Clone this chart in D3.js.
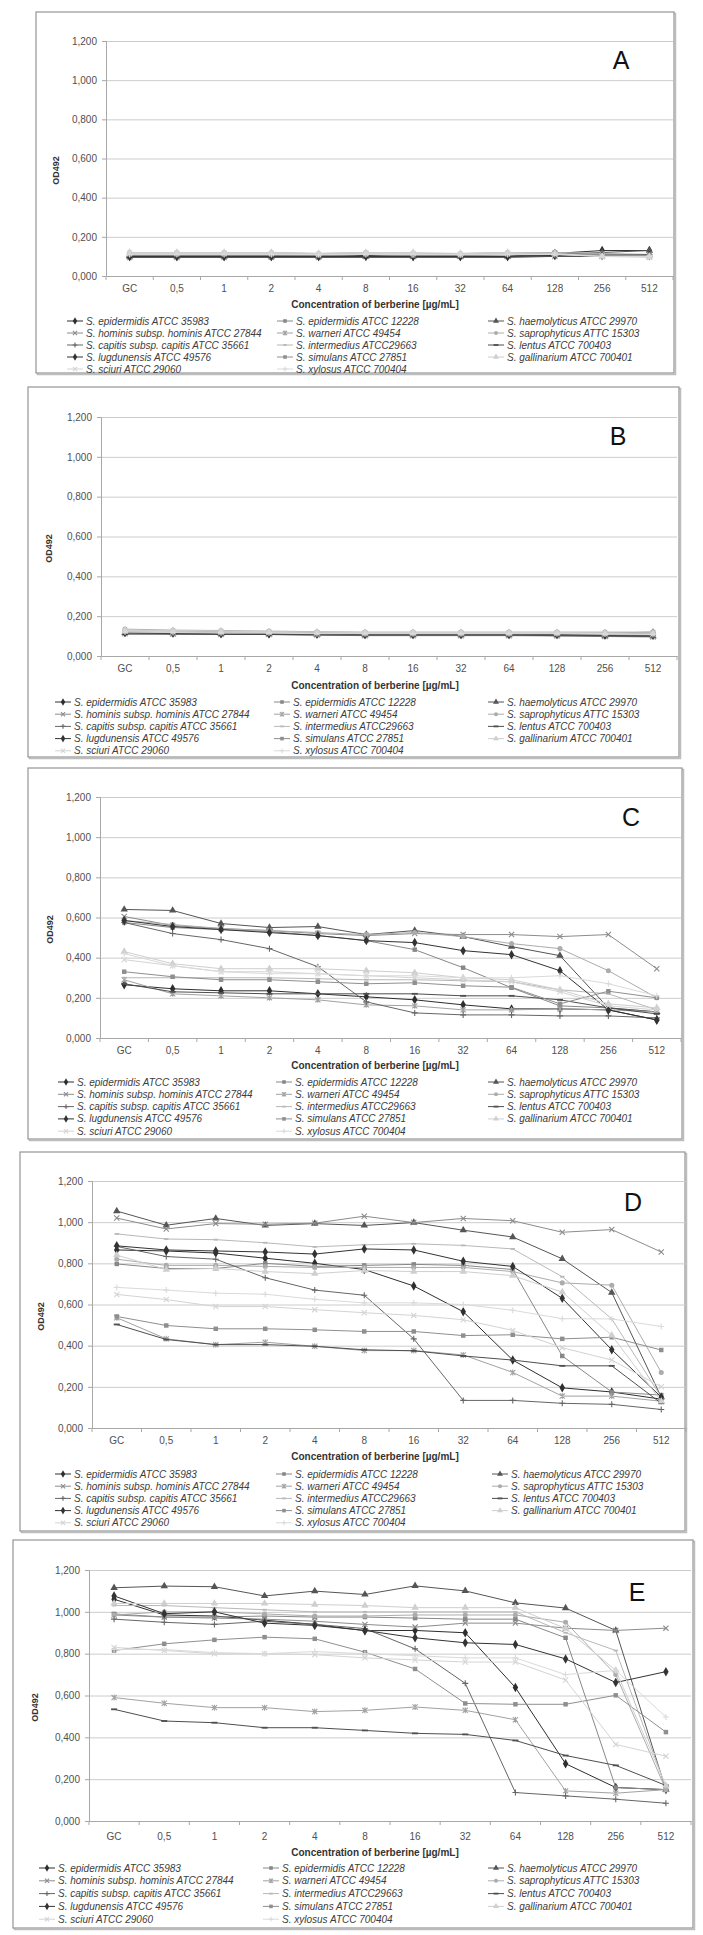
<!DOCTYPE html>
<html><head><meta charset="utf-8">
<script src="https://cdn.jsdelivr.net/npm/d3@7"></script>
<style>
body{margin:0;background:#fff;}
svg{display:block;}
text{font-family:"Liberation Sans Narrow","Arial Narrow","Liberation Sans",Arial,sans-serif;}
</style></head><body>
<svg id="chart" width="703" height="1935"></svg>
<script>
const categories = ["GC","0,5","1","2","4","8","16","32","64","128","256","512"];
const yTicks = [0, 0.2, 0.4, 0.6, 0.8, 1.0, 1.2];
const yTickLabels = ["0,000","0,200","0,400","0,600","0,800","1,000","1,200"];
const xTitle = "Concentration of berberine [µg/mL]";
const yTitle = "OD492";
const panelLetters = ["A","B","C","D","E"];
const seriesNames = [
  "S. epidermidis ATCC 35983","S. epidermidis ATCC 12228","S. haemolyticus ATCC 29970",
  "S. hominis subsp. hominis ATCC 27844","S. warneri  ATCC 49454","S. saprophyticus ATTC 15303",
  "S. capitis subsp. capitis ATCC 35661","S. intermedius ATCC29663","S. lentus ATCC 700403",
  "S. lugdunensis  ATCC 49576","S. simulans ATCC 27851","S. gallinarium ATCC 700401",
  "S. sciuri ATCC 29060","S. xylosus ATCC 700404"
];

const valuesA = [
  [0.100,0.100,0.100,0.100,0.100,0.105,0.100,0.100,0.100,0.115,0.130,0.130],
  [0.115,0.115,0.115,0.115,0.110,0.115,0.110,0.110,0.115,0.120,0.110,0.105],
  [0.100,0.100,0.100,0.100,0.100,0.100,0.100,0.100,0.100,0.110,0.120,0.130],
  [0.105,0.105,0.105,0.105,0.105,0.110,0.105,0.105,0.110,0.115,0.110,0.110],
  [0.095,0.095,0.095,0.095,0.095,0.100,0.100,0.100,0.100,0.100,0.100,0.100],
  [0.120,0.120,0.120,0.120,0.115,0.120,0.115,0.115,0.120,0.120,0.115,0.110],
  [0.100,0.100,0.100,0.100,0.100,0.100,0.100,0.100,0.100,0.105,0.105,0.110],
  [0.110,0.110,0.110,0.110,0.110,0.110,0.110,0.110,0.110,0.110,0.105,0.105],
  [0.095,0.095,0.095,0.095,0.095,0.095,0.095,0.095,0.095,0.100,0.100,0.100],
  [0.100,0.100,0.100,0.100,0.100,0.100,0.100,0.100,0.100,0.105,0.105,0.105],
  [0.110,0.110,0.110,0.110,0.105,0.110,0.105,0.105,0.110,0.115,0.105,0.105],
  [0.120,0.120,0.120,0.120,0.115,0.120,0.120,0.115,0.120,0.115,0.100,0.100],
  [0.115,0.115,0.115,0.115,0.110,0.115,0.115,0.110,0.115,0.110,0.100,0.095],
  [0.110,0.110,0.110,0.110,0.110,0.110,0.110,0.110,0.110,0.110,0.100,0.100]
];
const valuesB = [
  [0.120,0.118,0.115,0.112,0.110,0.110,0.110,0.110,0.110,0.110,0.110,0.115],
  [0.125,0.125,0.122,0.120,0.118,0.115,0.115,0.115,0.115,0.115,0.115,0.120],
  [0.118,0.115,0.112,0.110,0.108,0.105,0.105,0.105,0.105,0.105,0.100,0.100],
  [0.115,0.112,0.110,0.110,0.108,0.105,0.105,0.105,0.105,0.105,0.100,0.100],
  [0.112,0.110,0.108,0.108,0.105,0.102,0.102,0.102,0.102,0.100,0.098,0.095],
  [0.135,0.130,0.128,0.125,0.122,0.120,0.120,0.120,0.120,0.120,0.120,0.120],
  [0.115,0.112,0.110,0.110,0.108,0.105,0.105,0.105,0.105,0.105,0.102,0.100],
  [0.120,0.118,0.115,0.115,0.112,0.110,0.110,0.110,0.110,0.110,0.108,0.105],
  [0.110,0.110,0.108,0.108,0.105,0.105,0.105,0.105,0.105,0.102,0.100,0.098],
  [0.118,0.115,0.112,0.112,0.110,0.108,0.108,0.108,0.108,0.108,0.105,0.105],
  [0.122,0.120,0.118,0.118,0.115,0.112,0.112,0.112,0.112,0.112,0.110,0.110],
  [0.130,0.128,0.125,0.122,0.120,0.118,0.118,0.118,0.118,0.118,0.115,0.115],
  [0.125,0.122,0.120,0.118,0.115,0.115,0.115,0.115,0.115,0.115,0.112,0.110],
  [0.120,0.118,0.115,0.115,0.112,0.112,0.112,0.112,0.112,0.112,0.110,0.108]
];
const valuesC = [
  [0.265,0.245,0.235,0.235,0.220,0.205,0.190,0.165,0.145,0.145,0.140,0.090],
  [0.575,0.550,0.540,0.530,0.510,0.485,0.440,0.350,0.250,0.160,0.150,0.130],
  [0.640,0.635,0.570,0.550,0.555,0.515,0.535,0.505,0.455,0.410,0.150,0.130],
  [0.605,0.560,0.545,0.535,0.520,0.510,0.520,0.515,0.515,0.505,0.515,0.345],
  [0.290,0.220,0.210,0.200,0.190,0.165,0.160,0.140,0.140,0.145,0.140,0.130],
  [0.585,0.565,0.545,0.535,0.525,0.515,0.525,0.505,0.470,0.445,0.335,0.200],
  [0.575,0.520,0.490,0.445,0.355,0.180,0.125,0.115,0.115,0.110,0.110,0.100],
  [0.300,0.300,0.300,0.300,0.295,0.290,0.290,0.285,0.280,0.240,0.220,0.140],
  [0.270,0.230,0.225,0.220,0.220,0.220,0.220,0.210,0.210,0.190,0.150,0.120],
  [0.585,0.555,0.540,0.525,0.510,0.485,0.475,0.435,0.415,0.335,0.140,0.090],
  [0.330,0.305,0.290,0.290,0.280,0.270,0.275,0.260,0.253,0.170,0.233,0.200],
  [0.430,0.370,0.345,0.345,0.345,0.335,0.325,0.300,0.290,0.240,0.170,0.150],
  [0.390,0.360,0.330,0.330,0.320,0.310,0.300,0.290,0.280,0.230,0.160,0.140],
  [0.420,0.360,0.330,0.320,0.320,0.310,0.310,0.300,0.300,0.310,0.270,0.210]
];
const valuesD = [
  [0.865,0.860,0.850,0.825,0.800,0.770,0.690,0.565,0.330,0.195,0.175,0.140],
  [0.797,0.775,0.775,0.800,0.785,0.790,0.795,0.790,0.770,0.350,0.175,0.160],
  [1.054,0.985,1.018,0.984,0.993,0.984,0.998,0.961,0.928,0.822,0.658,0.150],
  [1.020,0.967,0.993,0.990,0.995,1.029,0.998,1.018,1.007,0.951,0.964,0.855],
  [0.536,0.433,0.405,0.417,0.397,0.376,0.376,0.355,0.270,0.155,0.155,0.130],
  [0.820,0.790,0.790,0.785,0.780,0.780,0.780,0.780,0.760,0.705,0.694,0.270],
  [0.882,0.833,0.820,0.730,0.670,0.645,0.433,0.134,0.134,0.120,0.115,0.090],
  [0.943,0.918,0.915,0.900,0.880,0.890,0.895,0.887,0.870,0.735,0.530,0.150],
  [0.503,0.430,0.405,0.405,0.397,0.380,0.375,0.350,0.330,0.302,0.302,0.120],
  [0.885,0.865,0.860,0.855,0.845,0.870,0.865,0.810,0.785,0.630,0.380,0.150],
  [0.542,0.498,0.482,0.482,0.477,0.469,0.469,0.449,0.453,0.433,0.441,0.379],
  [0.840,0.770,0.775,0.760,0.750,0.765,0.760,0.760,0.740,0.660,0.450,0.130],
  [0.649,0.624,0.590,0.590,0.575,0.560,0.547,0.526,0.474,0.390,0.330,0.200],
  [0.683,0.670,0.655,0.650,0.625,0.608,0.608,0.600,0.572,0.531,0.530,0.493]
];
const valuesE = [
  [1.060,0.985,0.980,0.960,0.940,0.910,0.911,0.900,0.638,0.274,0.160,0.150],
  [0.990,0.975,0.975,0.980,0.975,0.975,0.970,0.965,0.965,0.876,0.160,0.150],
  [1.115,1.123,1.120,1.076,1.099,1.083,1.124,1.100,1.043,1.018,0.911,0.150],
  [0.985,0.975,0.970,0.965,0.955,0.940,0.927,0.946,0.946,0.922,0.911,0.922],
  [0.590,0.563,0.542,0.542,0.523,0.529,0.545,0.529,0.484,0.144,0.133,0.150],
  [0.985,1.000,1.000,0.990,0.980,0.980,0.985,0.985,0.985,0.950,0.700,0.150],
  [0.965,0.950,0.940,0.955,0.940,0.920,0.823,0.658,0.136,0.120,0.104,0.085],
  [1.030,1.030,1.020,1.010,1.000,1.000,1.000,1.000,1.000,0.900,0.815,0.160],
  [0.534,0.478,0.470,0.446,0.446,0.433,0.419,0.414,0.385,0.313,0.266,0.170],
  [1.076,0.991,1.000,0.946,0.935,0.911,0.876,0.852,0.844,0.775,0.662,0.714],
  [0.815,0.847,0.866,0.879,0.871,0.807,0.727,0.562,0.558,0.558,0.601,0.425],
  [1.040,1.040,1.040,1.040,1.035,1.030,1.020,1.020,1.020,0.920,0.720,0.170],
  [0.830,0.815,0.800,0.800,0.795,0.780,0.770,0.760,0.760,0.674,0.366,0.310],
  [0.820,0.820,0.805,0.800,0.810,0.800,0.790,0.780,0.780,0.700,0.720,0.497]
];

// styles
const seriesColors = ["#2e2e2e","#888888","#555555","#8c8c8c","#a2a2a2","#acacac","#666666",
                      "#b8b8b8","#4e4e4e","#333333","#8f8f8f","#cfcfcf","#d4d4d4","#dadada"];
const seriesMarkers = ["diamond","square","triangle","x","asterisk","circle","plus",
                       "smalldash","dash","diamond","square","triangle","x","plus"];

const layouts = [
  {box:[36,12,674,373],  plot:[106,673,41,276],    yTitleX:56, letter:[621,60],   xLabelY:288,  titleY:304,  legY:321,  legStep:12.0, legCols:[86,296,507]},
  {box:[28,387,679,757], plot:[101,677,417,656],   yTitleX:49, letter:[618,436],  xLabelY:668,  titleY:685,  legY:702,  legStep:12.2, legCols:[74,293,507]},
  {box:[28,768,682,1139],plot:[100,681,797,1038],  yTitleX:50, letter:[631,817],  xLabelY:1050, titleY:1065, legY:1082, legStep:12.3, legCols:[77,295,507]},
  {box:[20,1152,685,1531],plot:[92,686,1181,1428], yTitleX:41, letter:[633,1202], xLabelY:1440, titleY:1456, legY:1474, legStep:12.2, legCols:[74,295,511]},
  {box:[13,1540,693,1928],plot:[89,691,1570,1821], yTitleX:35, letter:[637,1592], xLabelY:1836, titleY:1852, legY:1868, legStep:12.8, legCols:[58,282,507]}
];
const panelValues = [valuesA, valuesB, valuesC, valuesD, valuesE];

const svg = d3.select("#chart");

function marker(g, type, color, x, y, k) {
  const t = `translate(${x},${y}) scale(${k})`;
  if (type === "diamond") g.append("path").attr("d", d3.symbol(d3.symbolDiamond, 26)()).attr("transform", t).attr("fill", color);
  else if (type === "square") g.append("path").attr("d", d3.symbol(d3.symbolSquare, 20)()).attr("transform", t).attr("fill", color);
  else if (type === "triangle") g.append("path").attr("d", d3.symbol(d3.symbolTriangle, 24)()).attr("transform", t).attr("fill", color);
  else if (type === "circle") g.append("path").attr("d", d3.symbol(d3.symbolCircle, 20)()).attr("transform", t).attr("fill", color);
  else {
    let d = "";
    if (type === "x") d = "M-2.6,-2.6L2.6,2.6M-2.6,2.6L2.6,-2.6";
    else if (type === "asterisk") d = "M-2.6,-2.6L2.6,2.6M-2.6,2.6L2.6,-2.6M0,-3L0,3";
    else if (type === "plus") d = "M-3,0L3,0M0,-3L0,3";
    else if (type === "dash") d = "M-3,0L3,0";
    else if (type === "smalldash") d = "M-2.2,0L2.2,0";
    g.append("path").attr("d", d).attr("transform", t).attr("stroke", color)
      .attr("stroke-width", (type.indexOf("dash") >= 0 ? 1.8 : 1.1) / k).attr("fill", "none");
  }
}

layouts.forEach((L, pi) => {
  const vals = panelValues[pi];
  const g = svg.append("g");
  const [bx0, by0, bx1, by1] = L.box;
  g.append("rect").attr("x", bx0 + 1.5).attr("y", by0 + 1.5).attr("width", bx1 - bx0).attr("height", by1 - by0)
    .attr("fill", "none").attr("stroke", "#bdbdbd").attr("stroke-width", 1.5);
  g.append("rect").attr("x", bx0).attr("y", by0).attr("width", bx1 - bx0).attr("height", by1 - by0)
    .attr("fill", "#fff").attr("stroke", "#959595").attr("stroke-width", 1.2);

  const [px0, px1, pyTop, pyBot] = L.plot;
  const x = d3.scaleBand().domain(categories).range([px0, px1]).paddingInner(0).paddingOuter(0);
  const y = d3.scaleLinear().domain([0, 1.2]).range([pyBot, pyTop]);
  const cx = c => x(c) + x.bandwidth() / 2;

  const grid = g.append("g").attr("transform", `translate(${px0},0)`)
    .call(d3.axisLeft(y).tickValues(yTicks.slice(1)).tickSize(-(px1 - px0)).tickFormat(""));
  grid.select(".domain").remove();
  grid.selectAll("line").attr("stroke", "#cccccc").attr("stroke-width", 1);

  const ya = g.append("g").attr("transform", `translate(${px0},0)`)
    .call(d3.axisLeft(y).tickValues(yTicks).tickSize(4).tickPadding(5).tickFormat((d, i) => yTickLabels[i]));
  ya.select(".domain").attr("stroke", "#a8a8a8");
  ya.selectAll("line").attr("stroke", "#a8a8a8");
  ya.selectAll("text").attr("font-size", 10).attr("fill", "#505050")
    .attr("font-family", '"Liberation Sans Narrow","Liberation Sans",sans-serif');

  const xa = g.append("g").attr("transform", `translate(0,${pyBot})`)
    .call(d3.axisBottom(x).tickSize(0).tickPadding(0));
  xa.select(".domain").attr("stroke", "#a8a8a8");
  xa.selectAll("text").attr("font-size", 10).attr("fill", "#505050")
    .attr("y", L.xLabelY - pyBot).attr("dy", "0.35em")
    .attr("font-family", '"Liberation Sans Narrow","Liberation Sans",sans-serif');
  g.append("g").selectAll("line").data(d3.range(categories.length + 1)).join("line")
    .attr("x1", i => px0 + i * x.step()).attr("x2", i => px0 + i * x.step())
    .attr("y1", pyBot).attr("y2", pyBot + 4).attr("stroke", "#a8a8a8");

  g.append("text").attr("x", 375).attr("y", L.titleY).attr("dy", "0.35em").attr("text-anchor", "middle")
    .attr("font-size", 10).attr("font-weight", "bold").attr("fill", "#333").text(xTitle);
  g.append("text").attr("transform", `translate(${L.yTitleX},${(pyTop + pyBot) / 2 + 12}) rotate(-90)`)
    .attr("dy", "0.35em").attr("text-anchor", "middle").attr("font-size", 9).attr("font-weight", "bold")
    .attr("fill", "#333").text(yTitle);
  g.append("text").attr("x", L.letter[0]).attr("y", L.letter[1]).attr("dy", "0.36em").attr("text-anchor", "middle")
    .attr("font-size", 25).attr("fill", "#111")
    .attr("font-family", '"Liberation Sans",Arial,sans-serif').text(panelLetters[pi]);

  const line = d3.line().x((d, i) => cx(categories[i])).y(d => y(d));
  vals.forEach((sv, si) => {
    const sg = g.append("g");
    sg.append("path").attr("d", line(sv)).attr("fill", "none")
      .attr("stroke", seriesColors[si]).attr("stroke-width", 1);
    sv.forEach((v, i) => marker(sg, seriesMarkers[si], seriesColors[si], cx(categories[i]), y(v), 1));
  });

  seriesNames.forEach((name, si) => {
    const row = Math.floor(si / 3), col = si % 3;
    const tx = L.legCols[col], ty = L.legY + row * L.legStep;
    const lg = g.append("g");
    lg.append("line").attr("x1", tx - 19).attr("x2", tx - 3).attr("y1", ty).attr("y2", ty)
      .attr("stroke", seriesColors[si]).attr("stroke-width", 1);
    marker(lg, seriesMarkers[si], seriesColors[si], tx - 11, ty, 0.8);
    lg.append("text").attr("x", tx).attr("y", ty).attr("dy", "0.35em").attr("font-size", 10)
      .attr("font-style", "italic").attr("fill", "#3c3c3c").text(name);
  });
});
</script>
</body></html>
